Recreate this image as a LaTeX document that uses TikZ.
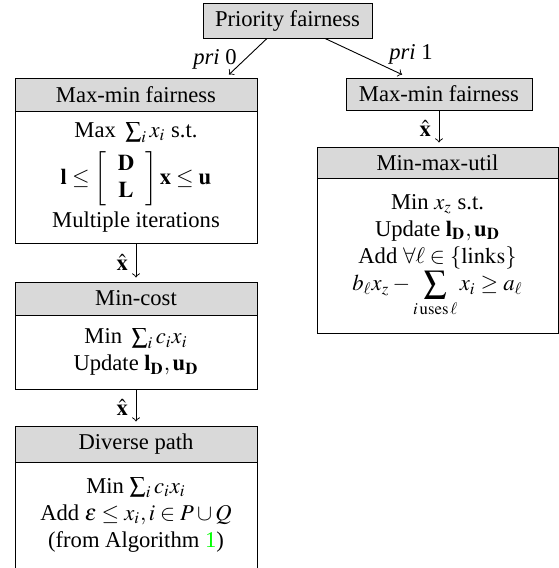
\documentclass[tikz,border=0pt]{standalone}
\usepackage{amsmath}
\usepackage{mathptmx}
\usepackage{fontspec}
\setmainfont{Liberation Serif}
\usetikzlibrary{calc}
\definecolor{headgray}{RGB}{217,217,217}
\definecolor{linkgreen}{RGB}{0,255,0}

\tikzset{
  sized/.style 2 args={minimum width=#1*0.4425pt, minimum height=#2*0.4425pt},
  box/.style={draw, inner sep=0pt, align=center, font=\fontsize{10}{12}\selectfont},
  head/.style={box, fill=headgray},
  arr/.style={->},
  xlab/.style={midway, left},
}

\begin{document}
\begin{tikzpicture}[x=0.4425pt, y=-0.4425pt]
\useasboundingbox (0,0) rectangle (558,568);

% top-level split
\node[head, sized={169}{35}] (prio) at (287.5,20.5) {Priority fairness};

% priority 0 chain
\node[head, sized={242}{33}] (mm0) at (136,94.5) {Max-min fairness};
\node[box, sized={242}{132}] (mm0b) at (136,177)
  {Max\, $\sum_i x_i$ s.t.\\[3pt]
   $\mathbf{l}\le\left[\begin{array}{c}\mathbf{D}\\\mathbf{L}\end{array}\right]\mathbf{x}\le\mathbf{u}$\\[1.5pt]
   Multiple iterations};
\node[head, sized={242}{33}] (mc) at (136,298.5) {Min-cost};
\node[box, sized={242}{74}] (mcb) at (136,352)
  {Min\, $\sum_i c_i x_i$\\
   Update $\mathbf{l}_{\mathbf{D}},\mathbf{u}_{\mathbf{D}}$};
\node[head, sized={242}{36}] (dp) at (136,444) {Diverse path};
\node[box, sized={242}{106}] (dpb) at (136,515)
  {Min $\sum_i c_i x_i$\\
   Add $\varepsilon\le x_i, i\in P\cup Q$\\
   (from Algorithm {\color{linkgreen}1})};

% priority 1 chain
\node[head, sized={186}{32}] (mm1) at (439,94) {Max-min fairness};
\node[head, sized={241}{31}] (mmu) at (437.5,162.5) {Min-max-util};
\node[box, sized={241}{155}] (mmub) at (437.5,255.5)
  {Min $x_z$ s.t.\\
   Update $\mathbf{l}_{\mathbf{D}},\mathbf{u}_{\mathbf{D}}$\\
   Add $\forall\ell\in\{\mathrm{links}\}$\\
   $\displaystyle b_\ell x_z-\sum_{i\,\mathrm{uses}\,\ell} x_i\ge a_\ell$};

% connectors
\draw[arr] ($(prio.south)+(-20.5,0)$) -- ($(mm0.north)+(93,-3)$)
  node[pos=0.59, left] {\textit{pri} 0};
\draw[arr] ($(prio.south)+(37.5,0)$) -- ($(mm1.north)+(-37,-3)$)
  node[pos=0.8, anchor=south west, inner sep=1pt] {\textit{pri} 1};
\draw[arr, shorten >=1.8pt] (mm1.south) -- (mm1.south |- mmu.north)
  node[xlab] {$\hat{\mathbf{x}}$};
\draw[arr, shorten >=1.8pt] (mm0b.south) -- (mc.north)
  node[xlab] {$\hat{\mathbf{x}}$};
\draw[arr, shorten >=1.8pt] (mcb.south) -- (dp.north)
  node[xlab] {$\hat{\mathbf{x}}$};
\end{tikzpicture}
\end{document}
